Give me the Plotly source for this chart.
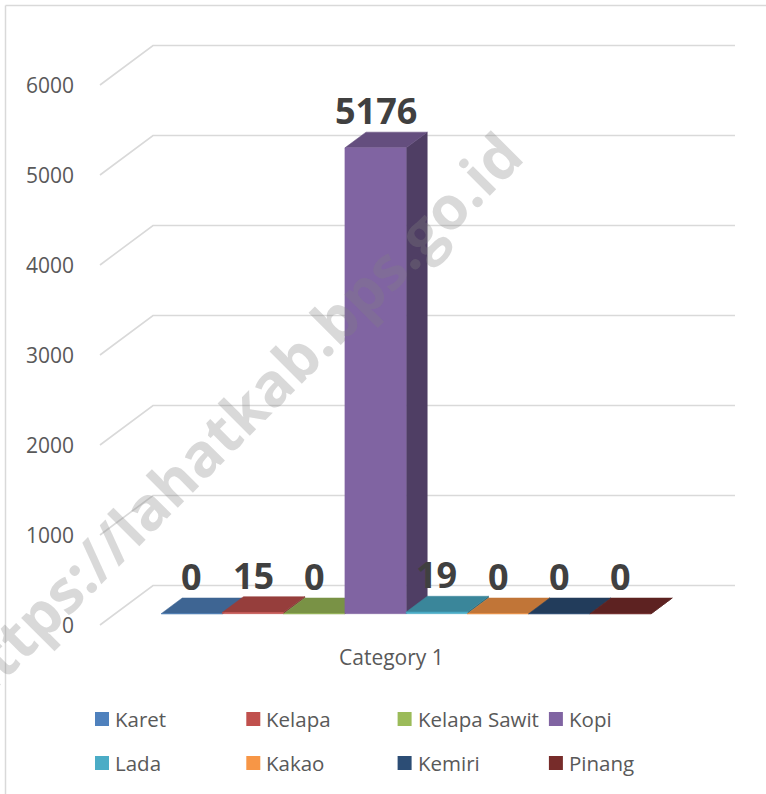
import plotly.graph_objects as go

# ---------------- data ----------------
category = "Category 1"
series_names = ["Karet", "Kelapa", "Kelapa Sawit", "Kopi", "Lada", "Kakao", "Kemiri", "Pinang"]
values = [0, 15, 0, 5176, 19, 0, 0, 0]
series_colors = ["#4F81BD", "#C0504D", "#9BBB59", "#8064A2", "#4BACC6", "#F79646", "#2C4D75", "#772C2A"]
y_ticks = [0, 1000, 2000, 3000, 4000, 5000, 6000]
watermark = "https://lahatkab.bps.go.id"

# ---------------- layout / projection ----------------
W, H = 766, 794
PX = 0.09            # screen px per value unit
FLOOR_Y = 625        # screen y of the front edge of the zero floor
DEPTH_DX = 53        # screen shift (x) from front to back wall
DEPTH_DV = 39.5 / PX # value shift from front to back wall
FLOOR_X0, FLOOR_X1 = 100, 682
D0, D1 = 0.286, 0.684
BAR_W = 61.25

def vy(py):
    return (FLOOR_Y - py) / PX

def proj(x, v, d):
    return x + DEPTH_DX * d, v + DEPTH_DV * d

def shade(hexcol, f):
    h = hexcol.lstrip("#")
    r, g, b = (int(h[i:i + 2], 16) for i in (0, 2, 4))
    return "rgb(%d,%d,%d)" % (round(r * f), round(g * f), round(b * f))

FONT = "Open Sans"
TXT = "#595959"

fig = go.Figure()

# gridlines (side wall diagonal + back wall horizontal)
gx, gy = [], []
for t in y_ticks:
    x1, v1 = proj(FLOOR_X0, t, 0)
    x2, v2 = proj(FLOOR_X0, t, 1)
    x3, v3 = proj(FLOOR_X1, t, 1)
    gx += [x1, x2, x3, None]
    gy += [v1, v2, v3, None]
fig.add_trace(go.Scatter(x=gx, y=gy, mode="lines", line=dict(color="#d9d9d9", width=1.6),
                         hoverinfo="skip", showlegend=False))

# bars
n = len(values)
group_left = (FLOOR_X0 + FLOOR_X1) / 2 - n * BAR_W / 2
for i, (name, val, col) in enumerate(zip(series_names, values, series_colors)):
    xl = group_left + i * BAR_W
    xr = xl + BAR_W
    faces = [
        ([(xr, 0, D0), (xr, 0, D1), (xr, val, D1), (xr, val, D0)], shade(col, 0.62)),  # side
        ([(xl, val, D0), (xr, val, D0), (xr, val, D1), (xl, val, D1)], shade(col, 0.78)),  # top
        ([(xl, 0, D0), (xr, 0, D0), (xr, val, D0), (xl, val, D0)], col),  # front
    ]
    for pts, c in faces:
        px_, pv_ = zip(*[proj(*p) for p in pts])
        fig.add_trace(go.Scatter(x=list(px_) + [px_[0]], y=list(pv_) + [pv_[0]], mode="lines",
                                 fill="toself", fillcolor=c, line=dict(color=c, width=0.5),
                                 name=name, hoverinfo="skip", showlegend=False))

annotations = []
# y tick labels
for t in y_ticks:
    annotations.append(dict(x=FLOOR_X0 - 24, y=t, text=str(t), showarrow=False, xanchor="right",
                            yanchor="middle", font=dict(family=FONT, size=21, color=TXT)))
# data labels
for i, val in enumerate(values):
    xc, vc = proj(group_left + (i + 0.5) * BAR_W, val, D0)
    annotations.append(dict(x=xc, y=vc + 37 / PX, text="<b>%d</b>" % val, showarrow=False,
                            xanchor="center", yanchor="middle",
                            font=dict(family=FONT, size=36, color="#404040")))
# category label
annotations.append(dict(x=(FLOOR_X0 + FLOOR_X1) / 2, y=vy(657), text=category, showarrow=False,
                        xanchor="center", yanchor="middle", font=dict(family=FONT, size=21, color=TXT)))

# legend (manual, 4 columns x 2 rows)
LEG_X0, LEG_DX = 102, 151.3
LEG_ROWS = [vy(719), vy(763)]
lx, ly = [], []
for k, name in enumerate(series_names):
    c, r = k % 4, k // 4
    lx.append(LEG_X0 + c * LEG_DX)
    ly.append(LEG_ROWS[r])
    annotations.append(dict(x=LEG_X0 + c * LEG_DX + 11, y=LEG_ROWS[r], text=name, showarrow=False,
                            xanchor="left", yanchor="middle", font=dict(family=FONT, size=20.5, color=TXT)))
fig.add_trace(go.Scatter(x=lx, y=ly, mode="markers",
                         marker=dict(symbol="square", size=14, color=series_colors, line=dict(width=0)),
                         hoverinfo="skip", showlegend=False))

# watermark (runs off the left edge, as in the source image)
annotations.append(dict(x=235, y=vy(418), text="<b>%s</b>" % watermark, showarrow=False,
                        textangle=-45, xanchor="center", yanchor="middle",
                        font=dict(family=FONT, size=60, color="rgba(128,128,128,0.3)")))

fig.update_layout(
    width=W, height=H, margin=dict(l=0, r=0, t=0, b=0),
    paper_bgcolor="white", plot_bgcolor="white", showlegend=False,
    xaxis=dict(visible=False, range=[0, W], fixedrange=True),
    yaxis=dict(visible=False, range=[vy(H), vy(0)], fixedrange=True),
    annotations=annotations,
    shapes=[
        dict(type="line", xref="paper", yref="paper", x0=5.5 / W, x1=5.5 / W, y0=0, y1=1 - 5.5 / H,
             line=dict(color="#d9d9d9", width=1.5)),
        dict(type="line", xref="paper", yref="paper", x0=5.5 / W, x1=1, y0=1 - 5.5 / H, y1=1 - 5.5 / H,
             line=dict(color="#d9d9d9", width=1.5)),
    ],
)

fig.write_html("out.html", config={"displayModeBar": False},
               post_script="document.body.style.margin='0';")
